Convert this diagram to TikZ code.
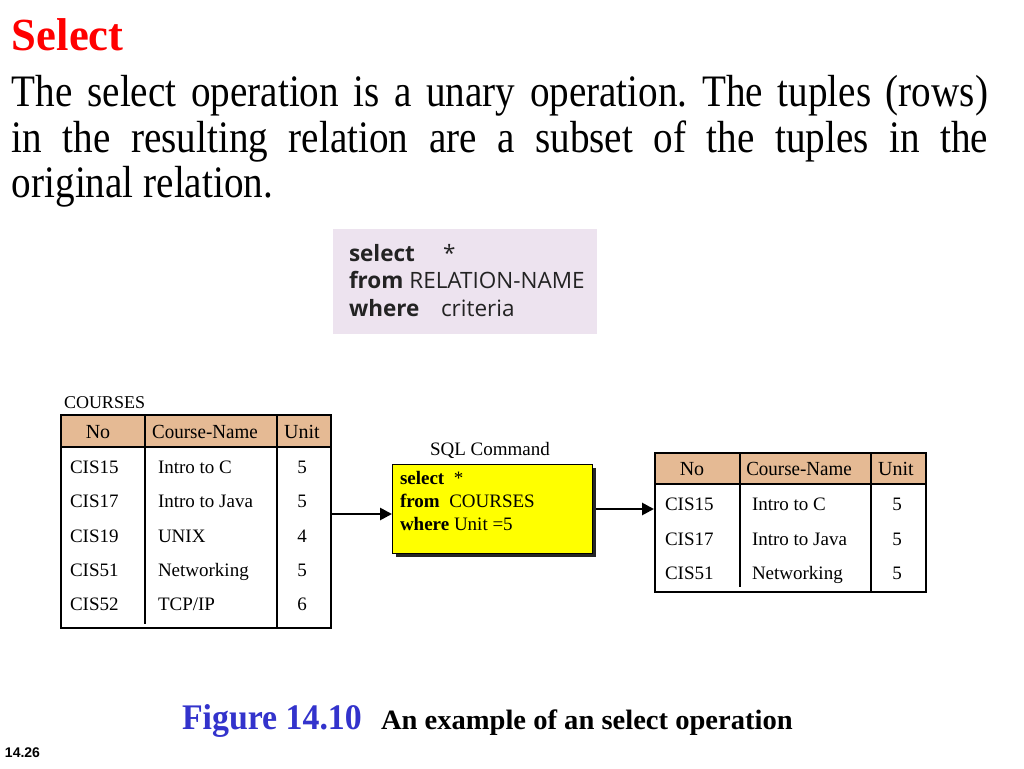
\documentclass[tikz,border=0pt]{standalone}
\usepackage{fontspec}
\setmainfont{Liberation Serif}
\newfontfamily\tmplfont{Open Sans}
\newfontfamily\arialfont{Liberation Sans}
\usetikzlibrary{arrows.meta}
\definecolor{titlered}{RGB}{255,0,0}
\definecolor{tmplbg}{RGB}{237,227,239}
\definecolor{tmpltext}{RGB}{35,35,35}
\definecolor{hdrtan}{RGB}{229,186,148}
\definecolor{figblue}{RGB}{51,51,204}
\definecolor{sqlyellow}{RGB}{255,255,0}
\newcommand\hsq[2]{\scalebox{#1}[1]{#2}}
\newcommand\bodyfnt{\fontsize{45}{46}\selectfont}
\newcommand\tabfnt{\fontsize{19}{21}\selectfont}
\newcommand\hdrfnt{\fontsize{20}{22}\selectfont}
\tikzset{
  txt/.style={anchor=base west, inner sep=0pt, outer sep=0pt},
  ctxt/.style={anchor=base, inner sep=0pt, outer sep=0pt},
  tmpl/.style={txt, font=\tmplfont\fontsize{22.5}{24}\selectfont, text=tmpltext},
  cell/.style={txt, font=\tabfnt},
  ccell/.style={ctxt, font=\tabfnt},
  hcell/.style={ctxt, font=\hdrfnt},
  tabline/.style={line width=2pt},
  flow/.style={line width=2.7pt, -{Triangle[length=12pt,width=12pt]}},
  sqltxt/.style={txt, font=\fontsize{19}{21}\selectfont},
}
\begin{document}
\frenchspacing
\begin{tikzpicture}[x=1pt,y=-1pt]
\useasboundingbox[fill=white] (0,0) rectangle (1024,768);
% title and text
\node[txt, text=titlered, font=\fontsize{46}{50}\selectfont\bfseries] (title) at (12,50) {\hsq{0.97}{Select}};
\node[txt, font=\bodyfnt] (l1) at (12,106) {\hsq{0.87}{\makebox[1121.8pt][s]{The select operation is a unary operation. The tuples (rows)}}};
\node[txt, font=\bodyfnt] (l2) at (12,152) {\hsq{0.87}{\makebox[1121.8pt][s]{in the resulting relation are a subset of the tuples in the}}};
\node[txt, font=\bodyfnt] (l3) at (12,197) {\hsq{0.87}{original relation.}};
% template box
\node[fill=tmplbg, minimum width=264pt, minimum height=105pt, anchor=north west, inner sep=0pt] (tmplbox) at (333,229) {};
\node[tmpl] (t1a) at (349,261) {\textbf{select}};
\node[tmpl] (t1b) at (443,261) {*};
\node[tmpl] (t2) at (349,288) {\textbf{from} RELATION-NAME};
\node[tmpl] (t3a) at (349,316) {\textbf{where}};
\node[tmpl] (t3b) at (441,316) {criteria};
% COURSES table
\node[txt, font=\fontsize{18}{20}\selectfont] (lbl) at (64,408) {COURSES};
\fill[hdrtan] (60,414) rectangle (330,447);
\node[draw, tabline, minimum width=270pt, minimum height=213pt, anchor=north west, inner sep=0pt] (courses) at (60,414) {};
\draw[tabline] (60,447) -- (330,447);
\draw[tabline] (145,414) -- (145,624);
\draw[tabline] (277,414) -- (277,627);
\node[hcell] (h1) at (98,438) {No};
\node[hcell] (h2) at (205,438) {\hsq{0.95}{Course-Name}};
\node[hcell] (h3) at (302,438) {Unit};
\node[cell] (r1a) at (70,473) {CIS15};
\node[cell] (r1b) at (158,473) {Intro to C};
\node[ccell] (r1c) at (302,473) {5};
\node[cell] (r2a) at (70,507) {CIS17};
\node[cell] (r2b) at (158,507) {Intro to Java};
\node[ccell] (r2c) at (302,507) {5};
\node[cell] (r3a) at (70,542) {CIS19};
\node[cell] (r3b) at (158,542) {UNIX};
\node[ccell] (r3c) at (302,542) {4};
\node[cell] (r4a) at (70,576) {CIS51};
\node[cell] (r4b) at (158,576) {Networking};
\node[ccell] (r4c) at (302,576) {5};
\node[cell] (r5a) at (70,610) {CIS52};
\node[cell] (r5b) at (158,610) {TCP/IP};
\node[ccell] (r5c) at (302,610) {6};
% SQL box
\node[ctxt, font=\fontsize{19}{21}\selectfont] (sqllbl) at (490,455) {SQL Command};
\node[fill=black!85, minimum width=200pt, minimum height=89pt, anchor=north west, inner sep=0pt] (sqlshadow) at (396,468) {};
\node[draw, line width=1.2pt, fill=sqlyellow, minimum width=200pt, minimum height=89pt, anchor=north west, inner sep=0pt] (sql) at (392,464) {};
\node[sqltxt] (s1) at (400,484) {\textbf{select}\ \ *};
\node[sqltxt] (s2) at (400,507) {\textbf{from}\ \ COURSES};
\node[sqltxt] (s3) at (400,530) {\textbf{where} Unit =5};
% result table
\fill[hdrtan] (654,452) rectangle (925,484);
\node[draw, tabline, minimum width=271pt, minimum height=139pt, anchor=north west, inner sep=0pt] (result) at (654,452) {};
\draw[tabline] (654,484) -- (925,484);
\draw[tabline] (740,452) -- (740,587);
\draw[tabline] (871,452) -- (871,591);
\node[hcell] (g1) at (692,475) {No};
\node[hcell] (g2) at (799,475) {\hsq{0.95}{Course-Name}};
\node[hcell] (g3) at (896,475) {Unit};
\node[cell] (q1a) at (665,510) {CIS15};
\node[cell] (q1b) at (752,510) {Intro to C};
\node[ccell] (q1c) at (897,510) {5};
\node[cell] (q2a) at (665,545) {CIS17};
\node[cell] (q2b) at (752,545) {Intro to Java};
\node[ccell] (q2c) at (897,545) {5};
\node[cell] (q3a) at (665,579) {CIS51};
\node[cell] (q3b) at (752,579) {Networking};
\node[ccell] (q3c) at (897,579) {5};
% arrows
\coordinate (y1) at (0,514);
\coordinate (y2) at (0,509);
\draw[flow] (courses.east |- y1) -- (sql.west |- y1);
\draw[flow] (sqlshadow.east |- y2) -- (result.west |- y2);
% caption
\node[txt, text=figblue, font=\fontsize{36}{38}\selectfont\bfseries] (fig) at (182,729) {\hsq{0.94}{Figure 14.10}};
\node[txt, font=\fontsize{28}{30}\selectfont\bfseries] (cap) at (381,729) {\hsq{1.02}{An example of an select operation}};
\node[txt, font=\arialfont\fontsize{14}{16}\selectfont\bfseries] (pg) at (5,757) {14.26};
\end{tikzpicture}
\end{document}
